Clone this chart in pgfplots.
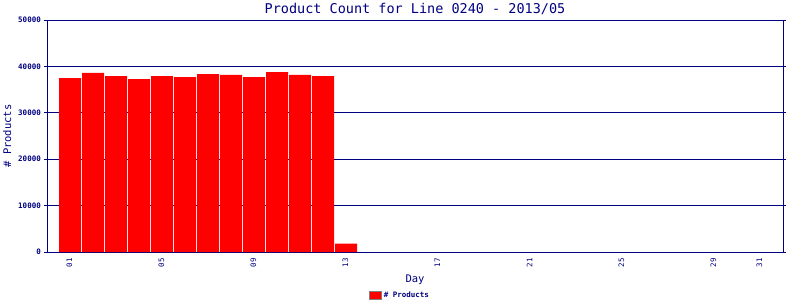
\documentclass[border=0pt]{standalone}
\usepackage{pgfplots}
\pgfplotsset{compat=1.18}
\usepackage{fontspec}
\setmonofont{DejaVu Sans Mono}
\definecolor{navy}{RGB}{0,0,128}
\begin{document}
\begin{tikzpicture}[x=1pt,y=1pt]
\useasboundingbox (0,0) rectangle (800,300);
\begin{axis}[
  at={(47pt,48pt)}, anchor=south west,
  width=736pt, height=232pt, scale only axis,
  xmin=0, xmax=32, ymin=0, ymax=50000,
  scaled y ticks=false,
  axis line style={navy, line width=1pt},
  ymajorgrids, grid style={navy, line width=1pt},
  ytick={0,10000,20000,30000,40000,50000},
  yticklabels={0,10000,20000,30000,40000,50000},
  xtick={1,5,9,13,17,21,25,29,31},
  xticklabels={01,05,09,13,17,21,25,29,31},
  xtick style={draw=none},
  ytick style={navy, line width=1pt},
  tick align=outside, major tick length=3pt,
  yticklabel style={font=\ttfamily\bfseries\fontsize{7.5}{8}\selectfont, text=navy, anchor=east, inner sep=0pt, xshift=-3pt},
  xticklabel style={font=\ttfamily\fontsize{7.5}{8}\selectfont, text=navy, rotate=90, anchor=east, inner sep=0pt, xshift=-3pt, yshift=0.5pt},
  title={Product Count for Line 0240 - 2013/05},
  title style={font=\ttfamily\fontsize{13.5}{14}\selectfont, text=navy, at={(axis description cs:0.5,1)}, anchor=base, yshift=1pt, inner sep=0pt},
  xlabel={Day},
  xlabel style={font=\ttfamily\fontsize{10.5}{11}\selectfont, text=navy, at={([yshift=-30pt]axis description cs:0.5,0)}, anchor=base},
  ylabel={\# Products},
  ylabel style={font=\ttfamily\fontsize{10.5}{11}\selectfont, text=navy, at={([xshift=-36pt]axis description cs:0,0.5)}, anchor=base, rotate=0},
  legend style={at={([xshift=-15pt,yshift=-38pt]axis description cs:0.5,0)}, anchor=north, draw=none, fill=none, font=\ttfamily\bfseries\fontsize{7.5}{8}\selectfont, text=navy, inner sep=0pt},
  legend image code/.code={\draw[fill=red, draw=gray, line width=0.8pt] (0pt,-4pt) rectangle (12pt,4pt);},
]
\addplot[ybar, bar width=22pt, bar shift=0pt, fill=red, draw=none] coordinates {
(1,37500) (2,38580) (3,37930) (4,37280) (5,37930) (6,37700) (7,38360) (8,38150) (9,37700) (10,38790) (11,38150) (12,37930) (13,1790)
};
\addlegendentry{\# Products}
\end{axis}
\end{tikzpicture}
\end{document}
